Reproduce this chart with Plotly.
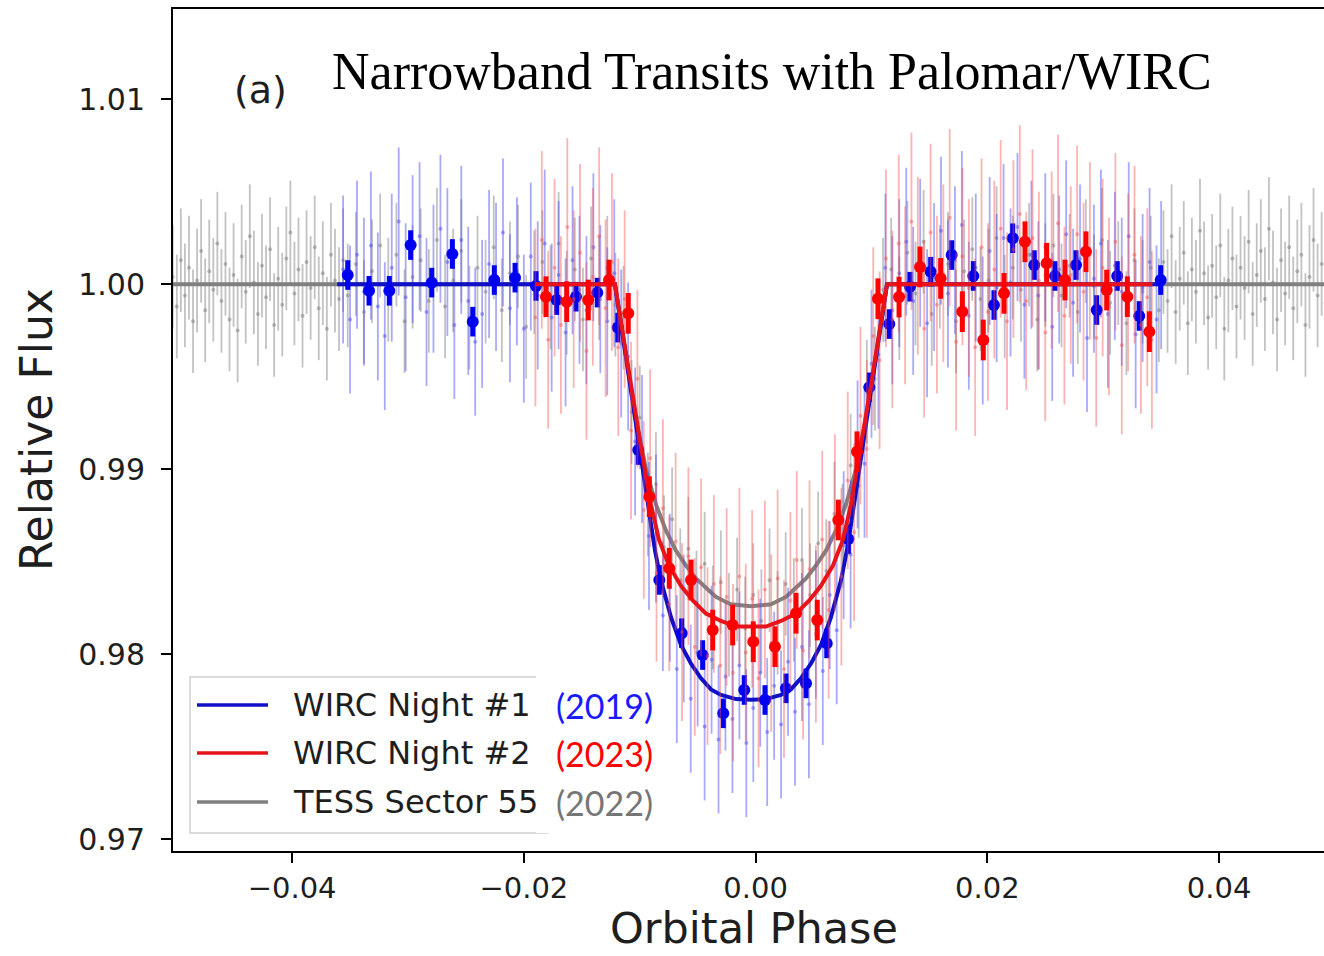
import plotly.graph_objects as go

# ---------------- binned WIRC points (phase, relative flux) ----------------
blue_bin_phase = [-0.03520, -0.03336, -0.03161, -0.02977, -0.02795, -0.02617, -0.02441, -0.02255,
                  -0.02076, -0.01895, -0.01717, -0.01550, -0.01366, -0.01189, -0.01012, -0.00831,
                  -0.00638, -0.00457, -0.00279, -0.00098, 0.00081, 0.00262, 0.00435, 0.00614,
                  0.00800, 0.00981, 0.01154, 0.01332, 0.01511, 0.01692, 0.01879, 0.02057,
                  0.02219, 0.02405, 0.02584, 0.02765, 0.02944, 0.03121, 0.03311, 0.03496]
blue_bin_flux = [1.00050, 0.99965, 0.99965, 1.00212, 1.00009, 1.00164, 0.99798, 1.00023,
                 1.00036, 0.99991, 0.99915, 0.99933, 0.99955, 0.99766, 0.99104, 0.98402,
                 0.98114, 0.97996, 0.97681, 0.97807, 0.97753, 0.97816, 0.97843, 0.98059,
                 0.98623, 0.99443, 0.99785, 0.99987, 1.00068, 1.00158, 1.00045, 0.99888,
                 1.00249, 1.00104, 1.00045, 1.00104, 0.99861, 1.00045, 0.99829, 1.00023]
blue_bin_err = 0.0008

red_bin_phase = [-0.01809, -0.01630, -0.01444, -0.01265, -0.01099, -0.00917, -0.00745, -0.00557,
                 -0.00370, -0.00198, -0.00020, 0.00167, 0.00349, 0.00532, 0.00714, 0.00875,
                 0.01056, 0.01238, 0.01419, 0.01597, 0.01784, 0.01965, 0.02144, 0.02325,
                 0.02512, 0.02670, 0.02851, 0.03030, 0.03208, 0.03398]
red_bin_flux = [0.99933, 0.99906, 0.99915, 1.00023, 0.99843, 0.98852, 0.98465, 0.98402,
                0.98131, 0.98158, 0.98068, 0.98041, 0.98222, 0.98185, 0.98726, 0.99095,
                0.99922, 0.99931, 1.00094, 1.00032, 0.99852, 0.99699, 0.99951, 1.00230,
                1.00114, 1.00023, 1.00176, 0.99969, 0.99933, 0.99744]
red_bin_err = 0.0011

# ---------------- unbinned points: phase in 1e-3, flux offset in ppt ----------------
blue_raw_phase = [-35.6, -35.0, -34.4, -33.8, -33.2, -32.6, -32.0, -31.4, -30.8, -30.2,
                  -29.6, -29.0, -28.4, -27.8, -27.2, -26.6, -26.0, -25.4, -24.8, -24.2,
                  -23.6, -23.0, -22.4, -21.8, -21.2, -20.6, -20.0, -19.4, -18.8, -18.2,
                  -17.6, -17.0, -16.4, -15.8, -15.2, -14.6, -14.0, -13.4, -12.8, -12.2,
                  -11.6, -11.0, -10.4, -9.8, -9.2, -8.6, -8.0, -7.4, -6.8, -6.2,
                  -5.6, -5.0, -4.4, -3.8, -3.2, -2.6, -2.0, -1.4, -0.8, -0.2,
                  0.4, 1.0, 1.6, 2.2, 2.8, 3.4, 4.0, 4.6, 5.2, 5.8,
                  6.4, 7.0, 7.6, 8.2, 8.8, 9.4, 10.0, 10.6, 11.2, 11.8,
                  12.4, 13.0, 13.6, 14.2, 14.8, 15.4, 16.0, 16.6, 17.2, 17.8,
                  18.4, 19.0, 19.6, 20.2, 20.8, 21.4, 22.0, 22.6, 23.2, 23.8,
                  24.4, 25.0, 25.6, 26.2, 26.8, 27.4, 28.0, 28.6, 29.2, 29.8,
                  30.4, 31.0, 31.6, 32.2, 32.8, 33.4, 34.0, 34.6, 35.0]
blue_raw_ppt = [0.8, -1.9, 1.6, -0.4, 2.1, -1.2, -2.8, 0.9, 3.4, -0.7,
                1.9, 2.6, -1.5, 0.3, 3.0, 1.2, -2.2, 2.4, -0.9, -3.1,
                -1.6, 1.1, 0.4, 2.8, -1.3, 0.7, -2.4, 1.5, -0.6, 2.2,
                -1.8, 0.5, -2.6, 1.3, -0.3, -1.4, 2.0, -0.8, -2.0, 0.6,
                -3.2, -3.9, -8.5, -8.9, -13.6, -13.2, -17.9, -16.4, -20.8, -18.6,
                -22.4, -19.9, -23.9, -20.3, -24.6, -21.2, -23.5, -20.6, -24.8, -22.9,
                -21.0, -24.2, -21.7, -23.8, -20.4, -23.1, -19.6, -22.7, -18.4, -20.9,
                -16.8, -18.7, -14.1, -14.6, -9.2, -9.7, -4.3, -3.8, 0.9, -1.4,
                0.6, 2.3, -0.9, 1.7, -2.1, 0.4, 2.9, -0.5, 1.3, 3.2,
                -1.7, 0.9, -2.5, 1.8, -0.2, 2.5, 0.1, 3.1, -1.1, 1.6,
                -0.6, 2.0, -2.3, 0.8, 2.7, -1.0, 1.4, -2.9, 0.3, 2.2,
                -1.6, 1.0, -0.4, 2.6, -2.7, -0.2, 1.2, -1.9, 0.5]
blue_raw_err_ppt = 4.0

red_raw_phase = [-19.0, -18.45, -17.9, -17.35, -16.8, -16.25, -15.7, -15.15, -14.6, -14.05,
                 -13.5, -12.95, -12.4, -11.85, -11.3, -10.75, -10.2, -9.65, -9.1, -8.55,
                 -8.0, -7.45, -6.9, -6.35, -5.8, -5.25, -4.7, -4.15, -3.6, -3.05,
                 -2.5, -1.95, -1.4, -0.85, -0.3, 0.25, 0.8, 1.35, 1.9, 2.45,
                 3.0, 3.55, 4.1, 4.65, 5.2, 5.75, 6.3, 6.85, 7.4, 7.95,
                 8.5, 9.05, 9.6, 10.15, 10.7, 11.25, 11.8, 12.35, 12.9, 13.45,
                 14.0, 14.55, 15.1, 15.65, 16.2, 16.75, 17.3, 17.85, 18.4, 18.95,
                 19.5, 20.05, 20.6, 21.15, 21.7, 22.25, 22.8, 23.35, 23.9, 24.45,
                 25.0, 25.55, 26.1, 26.65, 27.2, 27.75, 28.3, 28.85, 29.4, 29.95,
                 30.5, 31.05, 31.6, 32.15, 32.7, 33.25, 33.8, 34.2]
red_raw_ppt = [-1.8, 2.4, -3.0, 0.9, -2.2, 3.1, -0.8, 1.7, -3.6, 0.4,
               2.6, -1.3, 1.2, -3.4, -0.8, -7.9, -5.1, -12.2, -9.4, -15.6,
               -12.1, -17.3, -13.9, -18.8, -14.7, -19.6, -15.3, -20.1, -16.2, -20.6,
               -16.9, -21.0, -15.8, -19.9, -17.0, -21.3, -16.5, -19.4, -15.9, -20.8,
               -17.1, -14.9, -19.8, -15.4, -18.9, -13.8, -17.6, -12.9, -15.8, -10.6,
               -13.4, -7.1, -8.9, -2.8, -4.1, 1.4, -1.9, 2.2, -0.6, 3.4,
               1.0, -2.4, 2.8, -1.1, 0.6, 3.6, -3.1, 1.5, -0.2, -3.4,
               2.0, -1.5, 0.8, 3.0, -2.0, 1.9, 3.8, -0.9, 2.5, 0.2,
               -2.6, 1.3, 3.3, -1.7, 0.5, 2.7, -0.4, 1.8, -2.9, 0.9,
               -1.2, 2.3, -3.3, 0.1, 1.6, -2.2, -0.7, -3.0]
red_raw_err_ppt = 4.8

gray_raw_phase = [-50.3, -49.95, -49.6, -49.25, -48.9, -48.55, -48.2, -47.85, -47.5, -47.15,
                  -46.8, -46.45, -46.1, -45.75, -45.4, -45.05, -44.7, -44.35, -44.0, -43.65,
                  -43.3, -42.95, -42.6, -42.25, -41.9, -41.55, -41.2, -40.85, -40.5, -40.15,
                  -39.8, -39.45, -39.1, -38.75, -38.4, -38.05, -37.7, -37.35, -37.0, -36.65,
                  -36.3, -35.95, -35.6,
                  -35.2, -34.5, -33.8, -33.1, -32.4, -31.7, -31.0, -30.3, -29.6, -28.9,
                  -28.2, -27.5, -26.8, -26.1, -25.4, -24.7, -24.0, -23.3, -22.6, -21.9,
                  -21.2, -20.5, -19.8, -19.1, -18.4, -17.7, -17.0, -16.3, -15.6, -14.9,
                  -14.2, -13.5, -12.8, -12.1, -11.4, -10.7, -10.0, -9.3, -8.6, -7.9,
                  -7.2, -6.5, -5.8, -5.1, -4.4, -3.7, -3.0, -2.3, -1.6, -0.9,
                  -0.2, 0.5, 1.2, 1.9, 2.6, 3.3, 4.0, 4.7, 5.4, 6.1,
                  6.8, 7.5, 8.2, 8.9, 9.6, 10.3, 11.0, 11.7, 12.4, 13.1,
                  13.8, 14.5, 15.2, 15.9, 16.6, 17.3, 18.0, 18.7, 19.4, 20.1,
                  20.8, 21.5, 22.2, 22.9, 23.6, 24.3, 25.0, 25.7, 26.4, 27.1,
                  27.8, 28.5, 29.2, 29.9, 30.6, 31.3, 32.0, 32.7, 33.4, 34.1, 34.8,
                  35.2, 35.55, 35.9, 36.25, 36.6, 36.95, 37.3, 37.65, 38.0, 38.35,
                  38.7, 39.05, 39.4, 39.75, 40.1, 40.45, 40.8, 41.15, 41.5, 41.85,
                  42.2, 42.55, 42.9, 43.25, 43.6, 43.95, 44.3, 44.65, 45.0, 45.35,
                  45.7, 46.05, 46.4, 46.75, 47.1, 47.45, 47.8, 48.15, 48.5, 48.85, 49.2]
gray_raw_ppt = [0.4, -1.2, 1.3, -0.6, 0.9, -2.0, 0.2, 1.8, -1.4, 0.7,
                -0.3, 2.2, -0.9, 1.1, -1.9, 0.5, -2.5, 1.5, -0.4, 2.6,
                0.1, -1.6, 1.0, -0.7, 1.9, -2.2, 0.3, -1.1, 1.4, 2.8,
                -0.5, 0.8, -1.7, 1.2, -0.2, 2.0, -1.3, 0.6, -2.4, 1.6,
                0.2, -0.8, 1.3,
                -0.6, 1.1, -1.5, 0.7, 2.1, -0.3, 1.6, -2.0, 0.4, 1.3,
                -0.9, 2.4, -1.2, 0.2, 1.8, -1.8, 0.9, -0.4, 2.0, -1.4,
                0.6, 1.5, -2.3, 0.1, 1.2, -0.7, 2.2, -1.0, 0.8, -1.9,
                1.4, -0.2, 0.9, -1.1, -1.8, -6.9, -7.2, -11.9, -10.8, -14.2,
                -12.7, -16.0, -14.3, -17.2, -15.1, -18.0, -16.1, -18.4, -16.5, -18.6,
                -16.8, -18.2, -16.0, -18.3, -16.2, -17.6, -14.9, -16.8, -14.0, -15.5,
                -12.4, -13.6, -9.8, -10.9, -5.8, -5.1, -0.3, 0.8, -1.3, 1.7,
                -0.5, 2.3, -1.6, 0.4, 1.1, -2.0, 0.7, 1.9, -0.8, 0.2,
                2.5, -1.2, 0.9, -0.3, 1.6, -1.9, 0.5, 2.1, -0.6, 1.0,
                -1.5, 1.8, -0.1, 2.4, -1.0, 0.6, -2.1, 1.3, -0.4, 0.9, -1.4,
                1.2, -0.9, 2.6, -1.5, 0.3, 1.7, -2.1, 0.8, -0.4, 2.9,
                0.6, -1.8, 1.0, -0.7, 2.1, -2.4, 0.2, 1.4, -1.2, 0.9,
                -0.2, 2.3, -1.6, 0.5, 1.8, -0.8, 3.0, 0.1, -1.9, 1.3,
                -0.5, 2.0, -1.3, 0.7, 1.6, -2.2, 0.4, 2.4, -0.6, 1.1, -1.0]
gray_raw_err_ppt = 2.8

# ---------------- transit models: phase in 1e-3, flux offset in ppt ----------------
blue_model_phase = [-36.1, -12.14, -11.62, -10.76, -9.89, -9.03, -8.68, -8.17, -7.30, -6.44,
                    -5.58, -4.71, -3.85, -2.99, -1.69, -0.4, 0.89, 2.19, 3.05, 3.91,
                    4.78, 5.64, 6.50, 7.37, 7.88, 8.23, 9.09, 9.96, 10.82, 11.34, 35.0]
blue_model_ppt = [0.0, 0.0, -2.15, -5.8, -9.4, -13.0, -14.4, -16.0, -18.0, -19.5,
                  -20.5, -21.3, -21.9, -22.2, -22.42, -22.46, -22.42, -22.2, -21.9, -21.3,
                  -20.5, -19.5, -18.0, -16.0, -14.4, -13.0, -9.4, -5.8, -2.15, 0.0, 0.0]

red_model_phase = [-19.0, -12.14, -11.62, -10.76, -9.89, -9.03, -8.34, -7.48, -6.44, -5.41,
                   -4.28, -2.99, -1.69, -0.4, 0.89, 2.19, 3.48, 4.61, 5.64, 6.68,
                   7.54, 8.23, 9.09, 9.96, 10.82, 11.34, 34.2]
red_model_ppt = [0.0, 0.0, -2.04, -5.45, -8.8, -11.9, -13.8, -15.2, -16.3, -17.1,
                 -17.8, -18.2, -18.5, -18.5, -18.5, -18.2, -17.8, -17.1, -16.3, -15.2,
                 -13.8, -11.9, -8.8, -5.45, -2.04, 0.0, 0.0]

gray_model_phase = [-50.5, -12.14, -11.79, -11.19, -10.32, -9.46, -8.6, -7.74, -6.87, -6.01,
                    -5.15, -4.28, -3.42, -2.13, -0.4, 1.33, 2.62, 3.48, 4.35, 5.21,
                    6.07, 6.94, 7.8, 8.66, 9.52, 10.39, 10.99, 11.34, 49.5]
gray_model_ppt = [0.0, 0.0, -1.4, -3.8, -7.3, -10.0, -11.9, -13.3, -14.4, -15.2,
                  -15.9, -16.4, -16.9, -17.3, -17.4, -17.3, -16.9, -16.4, -15.9, -15.2,
                  -14.4, -13.3, -11.9, -10.0, -7.3, -3.8, -1.4, 0.0, 0.0]

legend_labels = ["WIRC Night #1", "WIRC Night #2", "TESS Sector 55"]
legend_years = ["(2019)", "(2023)", "(2022)"]

x_ticks = [-0.04, -0.02, 0.0, 0.02, 0.04]
x_tick_text = ["\u22120.04", "\u22120.02", "0.00", "0.02", "0.04"]
y_ticks = [0.97, 0.98, 0.99, 1.00, 1.01]
y_tick_text = ["0.97", "0.98", "0.99", "1.00", "1.01"]

# ---------------- styling ----------------
BLUE_LINE = "#1010c8"
RED_LINE = "#e8141c"
GRAY_LINE = "#808080"
BLUE_PT = "#0000f0"
RED_PT = "#ff0000"

W, H = 1324, 956
ML, MR, MT, MB = 173, 0, 9, 105
PW, PH = W - ML - MR, H - MT - MB


def ph(v):
    return [p / 1000.0 for p in v]


def fl(v):
    return [1.0 + f / 1000.0 for f in v]


def px_x(x):
    return (x - ML) / PW


def px_y(y):
    return (H - MB - y) / PH


fig = go.Figure()


def add_raw(phase, ppt, err, rgba):
    fig.add_trace(go.Scatter(
        x=ph(phase), y=fl(ppt), mode="markers",
        marker=dict(size=4, color=rgba),
        error_y=dict(type="constant", value=err / 1000.0, color=rgba, thickness=1.8, width=0),
        showlegend=False, hoverinfo="skip"))


def add_model(phase, ppt, color):
    fig.add_trace(go.Scatter(
        x=ph(phase), y=fl(ppt), mode="lines",
        line=dict(color=color, width=4), showlegend=False, hoverinfo="skip"))


def add_bins(phase, flux, err, color):
    fig.add_trace(go.Scatter(
        x=phase, y=flux, mode="markers",
        marker=dict(size=12, color=color),
        error_y=dict(type="constant", value=err, color=color, thickness=5, width=0),
        showlegend=False, hoverinfo="skip"))


add_raw(gray_raw_phase, gray_raw_ppt, gray_raw_err_ppt, "rgba(110,110,110,0.42)")
add_model(gray_model_phase, gray_model_ppt, GRAY_LINE)
add_raw(blue_raw_phase, blue_raw_ppt, blue_raw_err_ppt, "rgba(75,75,245,0.48)")
add_model(blue_model_phase, blue_model_ppt, BLUE_LINE)
add_bins(blue_bin_phase, blue_bin_flux, blue_bin_err, BLUE_PT)
add_raw(red_raw_phase, red_raw_ppt, red_raw_err_ppt, "rgba(245,75,75,0.42)")
add_model(red_model_phase, red_model_ppt, RED_LINE)
add_bins(red_bin_phase, red_bin_flux, red_bin_err, RED_PT)

x0_px_phase = 755.6
px_per_phase = 11587.5
x_range = [(ML - x0_px_phase) / px_per_phase, (W - MR - x0_px_phase) / px_per_phase]
y0_px_flux = 284.3
px_per_flux = 18500.0
y_range = [1.0 - (H - MB - y0_px_flux) / px_per_flux, 1.0 + (y0_px_flux - MT) / px_per_flux]

tick_font = dict(family="DejaVu Sans", size=29, color="#1e1e1e")

fig.update_layout(
    width=W, height=H,
    margin=dict(l=ML, r=MR, t=MT, b=MB),
    paper_bgcolor="white", plot_bgcolor="white",
    showlegend=False,
    xaxis=dict(range=x_range, tickvals=x_ticks, ticktext=x_tick_text,
               showgrid=False, zeroline=False, showline=True, linecolor="black", linewidth=2,
               mirror=True, ticks="outside", ticklen=10, tickwidth=1.5, tickcolor="black",
               tickfont=tick_font),
    yaxis=dict(range=y_range, tickvals=y_ticks, ticktext=y_tick_text,
               showgrid=False, zeroline=False, showline=True, linecolor="black", linewidth=2,
               mirror=False, ticks="outside", ticklen=10, tickwidth=1.5, tickcolor="black",
               tickfont=dict(family="DejaVu Sans", size=30, color="#1e1e1e"),
               ticklabelstandoff=10),
)

shapes = []
# legend frame
shapes.append(dict(type="rect", xref="paper", yref="paper", layer="above",
                   x0=px_x(190), x1=px_x(548), y0=px_y(833), y1=px_y(677),
                   line=dict(color="#cfcfcf", width=1.5), fillcolor="rgba(255,255,255,0.9)"))
# white panel holding the years
shapes.append(dict(type="rect", xref="paper", yref="paper", layer="above",
                   x0=px_x(536), x1=px_x(674), y0=px_y(833), y1=px_y(671),
                   line=dict(width=0), fillcolor="white"))
legend_rows = [705, 753, 802]
legend_colors = [BLUE_LINE, RED_LINE, GRAY_LINE]
year_colors = ["#1a1aff", "#ff0000", "#767676"]
for yy, c in zip(legend_rows, legend_colors):
    shapes.append(dict(type="line", xref="paper", yref="paper", layer="above",
                       x0=px_x(197), x1=px_x(268), y0=px_y(yy), y1=px_y(yy),
                       line=dict(color=c, width=3.5)))
fig.update_layout(shapes=shapes)

ann = []
for yy, lab in zip(legend_rows, legend_labels):
    ann.append(dict(text=lab, xref="paper", yref="paper", x=px_x(291), y=px_y(yy),
                    xanchor="left", yanchor="middle", showarrow=False,
                    font=dict(family="DejaVu Sans", size=32, color="#1e1e1e")))
for yy, lab, c in zip(legend_rows, legend_years, year_colors):
    ann.append(dict(text=lab, xref="paper", yref="paper", x=px_x(554), y=px_y(yy),
                    xanchor="left", yanchor="middle", showarrow=False,
                    font=dict(family="Lato", size=34, color=c)))
ann.append(dict(text="Narrowband Transits with Palomar/WIRC", xref="paper", yref="paper",
                x=px_x(771.5), y=px_y(71), xanchor="center", yanchor="middle", showarrow=False,
                font=dict(family="Liberation Serif", size=52, color="black")))
ann.append(dict(text="(a)", xref="paper", yref="paper", x=px_x(260), y=px_y(90),
                xanchor="center", yanchor="middle", showarrow=False,
                font=dict(family="DejaVu Sans", size=38, color="#1e1e1e")))
ann.append(dict(text="Orbital Phase", xref="paper", yref="paper", x=px_x(754), y=px_y(928),
                xanchor="center", yanchor="middle", showarrow=False,
                font=dict(family="DejaVu Sans", size=43, color="#1e1e1e")))
ann.append(dict(text="Relative Flux", xref="paper", yref="paper", x=px_x(36), y=px_y(430),
                xanchor="center", yanchor="middle", showarrow=False, textangle=-90,
                font=dict(family="DejaVu Sans", size=44, color="#1e1e1e")))
fig.update_layout(annotations=ann)

fig.write_html("out.html")
